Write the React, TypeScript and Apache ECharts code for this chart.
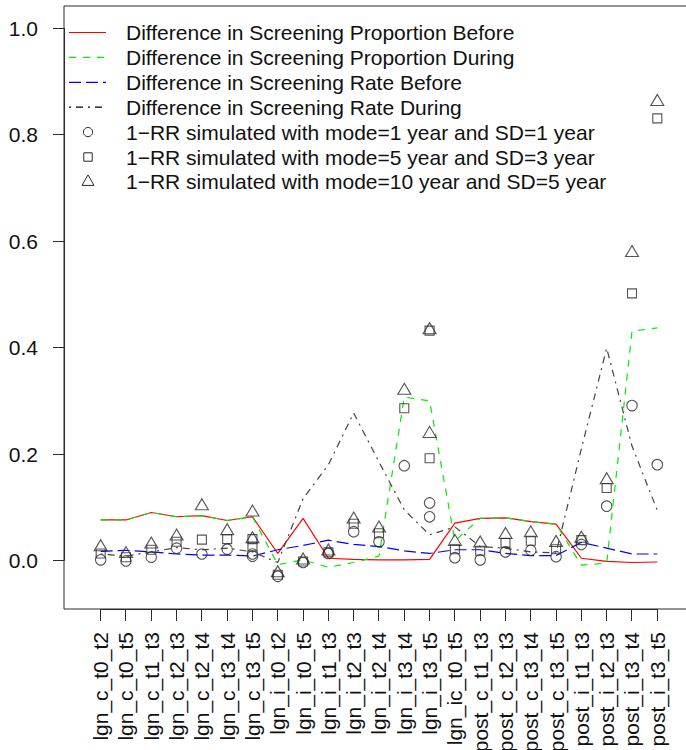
import React, { useEffect, useRef } from "react";
import * as echarts from "echarts";

// Study comparisons along the x axis
const categories = [
  "lgn_c_t0_t2", "lgn_c_t0_t5", "lgn_c_t1_t3", "lgn_c_t2_t3", "lgn_c_t2_t4",
  "lgn_c_t3_t4", "lgn_c_t3_t5", "lgn_i_t0_t2", "lgn_i_t0_t5", "lgn_i_t1_t3",
  "lgn_i_t2_t3", "lgn_i_t2_t4", "lgn_i_t3_t4", "lgn_i_t3_t5", "lgn_ic_t0_t5",
  "post_c_t1_t3", "post_c_t2_t3", "post_c_t3_t4", "post_c_t3_t5", "post_i_t1_t3",
  "post_i_t2_t3", "post_i_t3_t4", "post_i_t3_t5",
];

const proportionBefore = [
  0.076, 0.076, 0.090, 0.082, 0.084, 0.075, 0.082, 0.013, 0.079, 0.004, 0.002, 0.001,
  0.001, 0.002, 0.070, 0.079, 0.080, 0.073, 0.068, 0.004, -0.002, -0.004, -0.003,
];
const proportionDuring = [
  0.076, 0.076, 0.090, 0.082, 0.084, 0.075, 0.082, -0.008, 0.001, -0.013, -0.004, 0.008,
  0.307, 0.300, 0.037, 0.079, 0.080, 0.073, 0.068, -0.009, -0.005, 0.431, 0.437,
];
const rateBefore = [
  0.017, 0.019, 0.016, 0.012, 0.010, 0.010, 0.008, 0.020, 0.028, 0.038, 0.030, 0.026,
  0.018, 0.013, 0.020, 0.020, 0.013, 0.009, 0.009, 0.034, 0.023, 0.012, 0.012,
];
const rateDuring = [
  0.012, 0.008, 0.016, 0.024, 0.020, 0.023, 0.016, -0.004, 0.116, 0.180, 0.277, 0.185,
  0.095, 0.048, 0.063, 0.026, 0.023, 0.016, 0.014, 0.210, 0.399, 0.215, 0.094,
];

// Simulated 1-RR points: [comparison, value]
type Pt = [string, number];
const rrMode1: Pt[] = [
  ["lgn_c_t0_t2", 0.001], ["lgn_c_t0_t5", -0.001], ["lgn_c_t1_t3", 0.006], ["lgn_c_t2_t3", 0.023],
  ["lgn_c_t2_t4", 0.012], ["lgn_c_t3_t4", 0.021], ["lgn_c_t3_t5", 0.008], ["lgn_c_t3_t5", 0.012],
  ["lgn_i_t0_t2", -0.030], ["lgn_i_t0_t5", -0.004], ["lgn_i_t1_t3", 0.013], ["lgn_i_t2_t3", 0.054],
  ["lgn_i_t2_t4", 0.035], ["lgn_i_t3_t4", 0.178], ["lgn_i_t3_t5", 0.108], ["lgn_i_t3_t5", 0.082],
  ["lgn_ic_t0_t5", 0.005], ["post_c_t1_t3", 0.001], ["post_c_t2_t3", 0.016], ["post_c_t3_t4", 0.019],
  ["post_c_t3_t5", 0.007], ["post_i_t1_t3", 0.030], ["post_i_t2_t3", 0.102], ["post_i_t3_t4", 0.291],
  ["post_i_t3_t5", 0.180],
];
const rrMode5: Pt[] = [
  ["lgn_c_t0_t2", 0.013], ["lgn_c_t0_t5", 0.006], ["lgn_c_t1_t3", 0.020], ["lgn_c_t2_t3", 0.035],
  ["lgn_c_t2_t4", 0.039], ["lgn_c_t3_t4", 0.040], ["lgn_c_t3_t5", 0.040], ["lgn_c_t3_t5", 0.026],
  ["lgn_i_t0_t2", -0.027], ["lgn_i_t0_t5", -0.002], ["lgn_i_t1_t3", 0.015], ["lgn_i_t2_t3", 0.069],
  ["lgn_i_t2_t4", 0.051], ["lgn_i_t3_t4", 0.286], ["lgn_i_t3_t5", 0.432], ["lgn_i_t3_t5", 0.192],
  ["lgn_ic_t0_t5", 0.021], ["post_c_t1_t3", 0.018], ["post_c_t2_t3", 0.033], ["post_c_t3_t4", 0.037],
  ["post_c_t3_t5", 0.021], ["post_i_t1_t3", 0.038], ["post_i_t2_t3", 0.136], ["post_i_t3_t4", 0.502],
  ["post_i_t3_t5", 0.831],
];
const rrMode10: Pt[] = [
  ["lgn_c_t0_t2", 0.025], ["lgn_c_t0_t5", 0.012], ["lgn_c_t1_t3", 0.030], ["lgn_c_t2_t3", 0.045],
  ["lgn_c_t2_t4", 0.102], ["lgn_c_t3_t4", 0.055], ["lgn_c_t3_t5", 0.090], ["lgn_c_t3_t5", 0.040],
  ["lgn_i_t0_t2", -0.024], ["lgn_i_t0_t5", 0.000], ["lgn_i_t1_t3", 0.017], ["lgn_i_t2_t3", 0.077],
  ["lgn_i_t2_t4", 0.060], ["lgn_i_t3_t4", 0.319], ["lgn_i_t3_t5", 0.433], ["lgn_i_t3_t5", 0.238],
  ["lgn_ic_t0_t5", 0.035], ["post_c_t1_t3", 0.032], ["post_c_t2_t3", 0.048], ["post_c_t3_t4", 0.051],
  ["post_c_t3_t5", 0.033], ["post_i_t1_t3", 0.041], ["post_i_t2_t3", 0.151], ["post_i_t3_t4", 0.578],
  ["post_i_t3_t5", 0.862],
];

const yTicks = [0, 0.2, 0.4, 0.6, 0.8, 1.0];

const legendLabels = [
  "Difference in Screening Proportion Before",
  "Difference in Screening Proportion During",
  "Difference in Screening Rate Before",
  "Difference in Screening Rate During",
  "1\u2212RR simulated with mode=1 year and SD=1 year",
  "1\u2212RR simulated with mode=5 year and SD=3 year",
  "1\u2212RR simulated with mode=10 year and SD=5 year",
];

const FONT = "'Liberation Sans', Arial, sans-serif";
const INK = "#2a2a2a";

const lineStyles = [
  { color: "#ff0000", type: "solid" as any },
  { color: "#00ee00", type: [7, 7] as any },
  { color: "#0000ff", type: [12, 5] as any },
  { color: "#444444", type: [2, 5, 7, 5] as any },
];

// Plot frame and data range (the frame extends past the right edge of the page)
const BOX = { left: 64, top: 6, width: 642, height: 603 };
const X_RANGE = [-1.45, 23.925];
const Y_RANGE = [-0.0914, 1.0423];

const toXY = (vals: number[]) => vals.map((v, i) => [i, v]);
const ptsToXY = (pts: Pt[]) => pts.map(([c, v]) => [categories.indexOf(c), v]);
const snap = (v: number) => Math.round(v - 0.5) + 0.5;

export default function App() {
  const ref = useRef<HTMLDivElement>(null);

  useEffect(() => {
    const chart = echarts.init(ref.current!, null, { renderer: "svg" });

    // Pixel placement of the label-bearing axis grid, derived from the frame scale
    const pxX = (v: number) => BOX.left + ((v - X_RANGE[0]) / (X_RANGE[1] - X_RANGE[0])) * BOX.width;
    const pxY = (v: number) =>
      BOX.top + ((Y_RANGE[1] - v) / (Y_RANGE[1] - Y_RANGE[0])) * BOX.height;
    const nCat = categories.length - 1;
    const axisGrid = {
      left: pxX(0),
      top: pxY(1),
      width: pxX(nCat) - pxX(0),
      height: pxY(0) - pxY(1),
    };

    const lineSeries = [proportionBefore, proportionDuring, rateBefore, rateDuring].map(
      (vals, k) => ({
        type: "line",
        xAxisIndex: 0,
        yAxisIndex: 0,
        data: toXY(vals),
        symbol: "none",
        silent: true,
        z: 2 + k,
        lineStyle: { color: lineStyles[k].color, type: lineStyles[k].type, width: 1.2 },
      })
    );

    const markerBase = {
      type: "scatter",
      xAxisIndex: 0,
      yAxisIndex: 0,
      silent: true,
      z: 10,
      itemStyle: { color: "rgba(0,0,0,0)", borderColor: INK, borderWidth: 1.1 },
    };

    const scatterSeries = [
      { ...markerBase, data: ptsToXY(rrMode1), symbol: "circle", symbolSize: 10.5 },
      { ...markerBase, data: ptsToXY(rrMode5), symbol: "rect", symbolSize: 9 },
      {
        ...markerBase,
        data: ptsToXY(rrMode10),
        symbol: "triangle",
        symbolSize: [13, 11],
        symbolOffset: [0, -1.9],
      },
    ];

    // Outward tick marks on the frame, placed through the frame's own scales
    const tickSeries = [
      {
        type: "custom",
        xAxisIndex: 0,
        yAxisIndex: 0,
        clip: false,
        silent: true,
        z: 20,
        data: categories.map((_, i) => [i, Y_RANGE[0]]),
        renderItem: (_p: any, api: any) => {
          const pt = api.coord([api.value(0), api.value(1)]);
          const x = snap(pt[0]);
          return {
            type: "line",
            shape: { x1: x, y1: pt[1], x2: x, y2: pt[1] + 12 },
            style: { stroke: INK, lineWidth: 1 },
          };
        },
      },
      {
        type: "custom",
        xAxisIndex: 0,
        yAxisIndex: 0,
        clip: false,
        silent: true,
        z: 20,
        data: yTicks.map((v) => [X_RANGE[0], v]),
        renderItem: (_p: any, api: any) => {
          const pt = api.coord([api.value(0), api.value(1)]);
          const y = snap(pt[1]);
          return {
            type: "line",
            shape: { x1: pt[0] - 11, y1: y, x2: pt[0], y2: y },
            style: { stroke: INK, lineWidth: 1 },
          };
        },
      },
    ];

    // Legend block drawn in the top-left corner of the plot
    const lx0 = 69;
    const lx1 = 106;
    const mx = 88;
    const tx = 126;
    const rowY = (k: number) => 32.5 + 24.9 * k;
    const legend: any[] = [];
    legendLabels.forEach((label, k) => {
      const y = rowY(k);
      if (k < 4) {
        legend.push({
          type: "line",
          shape: { x1: lx0, y1: y, x2: lx1, y2: y },
          style: {
            stroke: k === 3 ? "#000" : lineStyles[k].color,
            lineWidth: 1.2,
            lineDash: Array.isArray(lineStyles[k].type) ? lineStyles[k].type : null,
          },
        });
      } else if (k === 4) {
        legend.push({
          type: "circle",
          shape: { cx: mx, cy: y, r: 4.6 },
          style: { fill: "none", stroke: INK, lineWidth: 1 },
        });
      } else if (k === 5) {
        legend.push({
          type: "rect",
          shape: { x: mx - 4.2, y: y - 4.2, width: 8.4, height: 8.4 },
          style: { fill: "none", stroke: INK, lineWidth: 1 },
        });
      } else {
        legend.push({
          type: "polygon",
          shape: { points: [[mx, y - 7], [mx + 6, y + 3.5], [mx - 6, y + 3.5]] },
          style: { fill: "none", stroke: INK, lineWidth: 1 },
        });
      }
      legend.push({
        type: "text",
        x: tx,
        y,
        style: {
          text: label,
          fontSize: 21,
          fontFamily: FONT,
          fill: "#111",
          verticalAlign: "middle",
        },
      });
    });

    const labelStyle = { fontSize: 21, fontFamily: FONT, color: "#111" };

    chart.setOption({
      animation: false,
      backgroundColor: "#ffffff",
      grid: [
        {
          ...BOX,
          show: true,
          borderColor: INK,
          borderWidth: 1,
          backgroundColor: "transparent",
          outerBoundsMode: "none",
          containLabel: false,
        },
        {
          ...axisGrid,
          show: false,
          outerBoundsMode: "none",
          containLabel: false,
        },
      ],
      xAxis: [
        {
          gridIndex: 0,
          type: "value",
          min: X_RANGE[0],
          max: X_RANGE[1],
          show: false,
        },
        {
          gridIndex: 1,
          type: "value",
          min: 0,
          max: nCat,
          interval: 1,
          offset: BOX.top + BOX.height - pxY(0),
          axisLine: { show: true, onZero: false, lineStyle: { color: INK, width: 1 } },
          splitLine: { show: false },
          axisTick: { show: false },
          axisLabel: {
            ...labelStyle,
            interval: 0,
            formatter: (v: number) => categories[Math.round(v)] ?? "",
            rotate: 90,
            margin: 23,
          },
        },
      ],
      yAxis: [
        {
          gridIndex: 0,
          type: "value",
          min: Y_RANGE[0],
          max: Y_RANGE[1],
          show: false,
        },
        {
          gridIndex: 1,
          type: "value",
          min: 0,
          max: 1,
          interval: 0.2,
          offset: pxX(0) - BOX.left,
          axisLine: { show: true, onZero: false, lineStyle: { color: INK, width: 1 } },
          splitLine: { show: false },
          axisTick: { show: false },
          axisLabel: {
            ...labelStyle,
            formatter: (v: number) => v.toFixed(1),
            margin: 26,
          },
        },
      ],
      series: [...lineSeries, ...scatterSeries, ...tickSeries],
      graphic: legend,
    });

    return () => chart.dispose();
  }, []);

  return (
    <div
      ref={ref}
      style={{ position: "fixed", left: 0, top: 0, width: 720, height: 750, background: "#fff" }}
    />
  );
}
